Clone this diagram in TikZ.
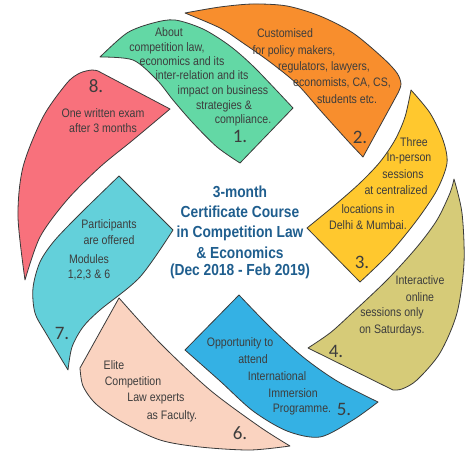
\documentclass[tikz,border=0pt]{standalone}
\usepackage{fontspec}
\setmainfont{Liberation Sans}[FakeStretch=0.86]
\newfontfamily\numfont{Carlito}

\definecolor{edgegray}{HTML}{3A3A3A}
\definecolor{txtgray}{HTML}{3D3D3D}
\definecolor{ttlblue}{HTML}{1F5E8E}
\definecolor{leafgreen}{HTML}{63D8A5}
\definecolor{leaforange}{HTML}{F88E2D}
\definecolor{leafyellow}{HTML}{FFC82E}
\definecolor{leafolive}{HTML}{D6CB78}
\definecolor{leafblue}{HTML}{34B1E4}
\definecolor{leafpeach}{HTML}{FAD3C0}
\definecolor{leafcyan}{HTML}{63D0DA}
\definecolor{leafred}{HTML}{F8717C}

\begin{document}
\begin{tikzpicture}[x=1pt,y=-1pt,
    leaf/.style={draw=edgegray, line width=0.8pt, line join=round},
    txt/.style={text=txtgray, font=\fontsize{12.3}{14}\selectfont, inner sep=0pt, text height=8.8pt, text depth=0pt},
    num/.style={text=txtgray, font=\numfont\fontsize{19}{22}\selectfont, inner sep=0pt, text height=12pt, text depth=0pt},
    ttl/.style={text=ttlblue, font=\bfseries\fontsize{16}{19}\selectfont, inner sep=0pt, text height=11.5pt, text depth=0pt}]
    \useasboundingbox (0,0) rectangle (467,452);

    % the eight leaves, clockwise from the top
    \draw[leaf, fill=leafgreen] plot[smooth] coordinates {(100,57) (127,33) (153,23) (175,20) (203,29) (230,46) (255,68) (293,108)}
        -- plot[smooth] coordinates {(240,163) (217,147) (193,123) (173,100) (157,80) (133,60) (100,57)} -- cycle;
    \draw[leaf, fill=leaforange] plot[smooth] coordinates {(185,13) (220,7) (253,4) (287,6) (320,16) (353,33) (383,58) (397,73) (401,84) (398,93)}
        -- plot[smooth] coordinates {(363,157) (347,140) (320,110) (297,84) (270,62) (243,43) (220,28) (185,13)} -- cycle;
    \draw[leaf, fill=leafyellow] plot[smooth] coordinates {(411,90) (430,113) (443,140) (447,163) (437,190) (417,220) (390,253) (360,282)}
        -- plot[smooth] coordinates {(307,228) (335,205) (360,183) (380,162) (395,140) (405,117) (411,90)} -- cycle;
    \draw[leaf, fill=leafolive] plot[smooth] coordinates {(454,179) (462,213) (464,263) (457,313) (440,353) (417,380) (402,389) (393,390)}
        -- plot[smooth] coordinates {(308,348) (330,333) (350,315) (387,280) (417,247) (437,220) (450,193) (454,179)} -- cycle;
    \draw[leaf, fill=leafblue] plot[smooth] coordinates {(378,402) (353,420) (320,437) (287,431) (253,411) (220,381) (185,350)}
        -- plot[smooth] coordinates {(239,295) (270,327) (303,357) (337,381) (378,402)} -- cycle;
    \draw[leaf, fill=leafpeach] plot[smooth] coordinates {(290,446) (250,450) (200,447) (160,440) (122,422) (96,404) (83,386) (80,368)}
        -- plot[smooth] coordinates {(119,298) (160,343) (210,390) (260,427) (290,446)} -- cycle;
    \draw[leaf, fill=leafcyan] plot[smooth] coordinates {(68,370) (47,335) (35,313) (33,288) (40,262) (55,240) (83,211) (119,176)}
        -- plot[smooth] coordinates {(173,230) (140,277) (100,310) (83,327) (72,347) (68,370)} -- cycle;
    \draw[leaf, fill=leafred] plot[smooth] coordinates {(25,280) (18,217) (23,167) (43,117) (67,83) (80,73) (92,70) (98,71)}
        -- plot[smooth] coordinates {(170,109) (133,140) (100,167) (67,200) (40,237) (25,280)} -- cycle;

    % texts in the leaves
    \foreach \x/\y/\t [count=\i] in {169/32/About, 167/47/{competition law,}, 182/61/economics and its,
        202/75/inter-relation and its, 223/90/impact on business, 224/105/strategies \&, 243/119/compliance.}
        \node[txt] (law-\i) at (\x,\y) {\t};
    \foreach \x/\y/\t [count=\i] in {285/33/Customised, 294/50/{for policy makers,}, 324/66/{regulators, lawyers,},
        342/82/{economists, CA, CS,}, 347/99/students etc.}
        \node[txt] (aud-\i) at (\x,\y) {\t};
    \foreach \x/\y/\t [count=\i] in {414/142/Three, 409/157/In-person, 403/174/sessions, 396/190/at centralized,
        368/209/locations in, 368/225/Delhi \& Mumbai.}
        \node[txt] (ses-\i) at (\x,\y) {\t};
    \foreach \x/\y/\t [count=\i] in {420/280/Interactive, 420/297/online, 392/312/sessions only, 392/329/on Saturdays.}
        \node[txt] (onl-\i) at (\x,\y) {\t};
    \foreach \x/\y/\t [count=\i] in {240/342/Opportunity to, 253/359/attend, 277/376/International,
        293/393/Immersion, 302/408/Programme.}
        \node[txt] (imm-\i) at (\x,\y) {\t};
    \foreach \x/\y/\t [count=\i] in {114/365/Elite, 133/381/Competition, 156/397/Law experts, 172/415/as Faculty.}
        \node[txt] (fac-\i) at (\x,\y) {\t};
    \foreach \x/\y/\t [count=\i] in {109/224/Participants, 109/240/are offered, 89/259/Modules, 89/274/{1,2,3 \& 6}}
        \node[txt] (mod-\i) at (\x,\y) {\t};
    \foreach \x/\y/\t [count=\i] in {103/113/One written exam, 103/128/after 3 months}
        \node[txt] (exm-\i) at (\x,\y) {\t};

    % numbers
    \foreach \x/\y/\n in {240/137/1, 360/138/2, 362/263/3, 336/351/4, 344/410/5, 240/433/6, 62/333/7, 96/87/8}
        \node[num] (num-\n) at (\x,\y) {\n.};

    % title in the middle
    \foreach \y/\t [count=\i] in {192/3-month, 212/Certificate Course, 232/in Competition Law,
        253/\& Economics, 270/(Dec 2018 - Feb 2019)}
        \node[ttl] (title-\i) at (240,\y) {\t};
\end{tikzpicture}
\end{document}
